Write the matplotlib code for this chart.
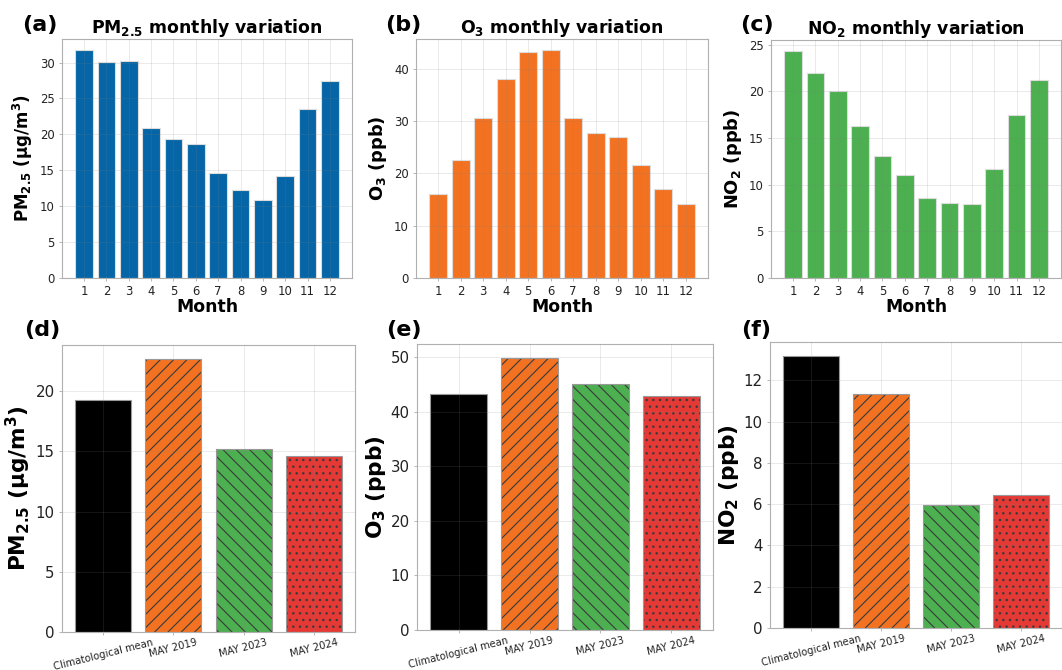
import matplotlib
matplotlib.use("Agg")
import matplotlib.pyplot as plt

months = list(range(1, 13))
pm25_monthly = [31.7, 30.1, 30.2, 20.9, 19.3, 18.6, 14.6, 12.3, 10.9, 14.2, 23.6, 27.5]
o3_monthly = [16.0, 22.6, 30.6, 38.0, 43.2, 43.5, 30.5, 27.8, 27.0, 21.5, 17.1, 14.1]
no2_monthly = [24.3, 22.0, 20.0, 16.3, 13.1, 11.0, 8.6, 8.0, 7.9, 11.7, 17.5, 21.2]

periods = ["Climatological mean", "MAY 2019", "MAY 2023", "MAY 2024"]
pm25_may = [19.3, 22.7, 15.2, 14.6]
o3_may = [43.3, 49.95, 45.1, 42.9]
no2_may = [13.2, 11.34, 5.98, 6.45]

W, H, DPI = 1062, 670, 80
fig = plt.figure(figsize=(W / DPI, H / DPI), dpi=DPI)


def box(x0, y0, x1, y1):
    # pixel box (top-left origin) -> figure fraction rect
    return [x0 / W, 1 - y1 / H, (x1 - x0) / W, (y1 - y0) / H]


def style(ax, tick_size):
    for s in ax.spines.values():
        s.set_color("#b0b0b0")
        s.set_linewidth(1.0)
    ax.grid(True, color="gray", alpha=0.18, linewidth=0.8)
    ax.set_axisbelow(False)
    ax.tick_params(colors="#b0b0b0", labelcolor="#222222", labelsize=tick_size,
                   length=3, width=0.8)


top = [
    (pm25_monthly, "#0565a6", r"$\mathbf{PM_{2.5}}$ monthly variation",
     r"$\mathbf{PM_{2.5}}$ ($\mathbf{\mu}$g/m$\mathbf{^3}$)", 15, (62, 39, 352, 278), "(a)", 22),
    (o3_monthly, "#f27222", r"$\mathbf{O_3}$ monthly variation",
     r"$\mathbf{O_3}$ (ppb)", 16, (416, 39, 708, 278), "(b)", 385),
    (no2_monthly, "#4caf50", r"$\mathbf{NO_2}$ monthly variation",
     r"$\mathbf{NO_2}$ (ppb)", 16, (771, 40, 1061, 278), "(c)", 740),
]

for vals, col, title, ylab, ysize, bx, tag, tx in top:
    ax = fig.add_axes(box(*bx))
    ax.bar(months, vals, width=0.8, color=col, edgecolor="#dddddd", linewidth=1.0)
    ax.set_xticks(months)
    style(ax, 10.5)
    ax.set_title(title, fontsize=15.5, fontweight="bold", pad=5)
    ax.set_xlabel("Month", fontsize=15.5, fontweight="bold", labelpad=0)
    ax.set_ylabel(ylab, fontsize=ysize, fontweight="bold", labelpad=4)
    fig.text(tx / W, 1 - 31 / H, tag, fontsize=20, fontweight="bold")

bottom_colors = ["black", "#f27222", "#4caf50", "#e53935"]
hatches = [None, "//", "\\\\", ".."]

bottom = [
    (pm25_may, r"$\mathbf{PM_{2.5}}$ ($\mathbf{\mu}$g/m$\mathbf{^3}$)", (62, 345, 355, 632), "(d)", 24),
    (o3_may, r"$\mathbf{O_3}$ (ppb)", (417, 344, 713, 630), "(e)", 386),
    (no2_may, r"$\mathbf{NO_2}$ (ppb)", (770, 342, 1062, 628), "(f)", 741),
]

x = list(range(len(periods)))
for vals, ylab, bx, tag, tx in bottom:
    ax = fig.add_axes(box(*bx))
    for i in x:
        ax.bar(i, vals[i], width=0.8, color=bottom_colors[i], edgecolor="#3a3a3a",
               linewidth=0, hatch=hatches[i])
        ax.bar(i, vals[i], width=0.8, fill=False, edgecolor="#999999", linewidth=1.0)
    ax.set_xticks(x)
    style(ax, 13.5)
    ax.set_xticklabels(periods, rotation=14, fontsize=9)
    ax.tick_params(axis="x", pad=2)
    ax.set_ylabel(ylab, fontsize=19.5, fontweight="bold", labelpad=2)
    fig.text(tx / W, 1 - 336 / H, tag, fontsize=20, fontweight="bold")

fig.savefig("out.png", dpi=DPI)
